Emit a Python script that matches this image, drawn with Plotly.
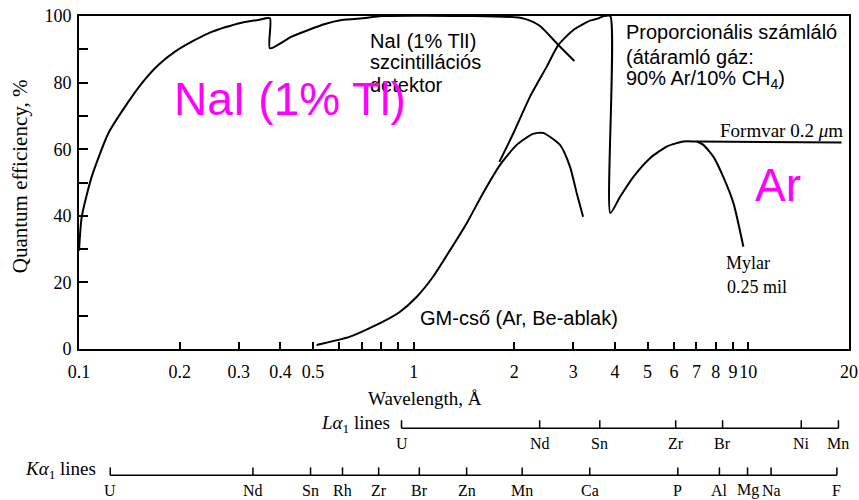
import numpy as np
import plotly.graph_objects as go

# ---- detector efficiency curves (wavelength in Å, quantum efficiency in %) ----
nai_wl = [0.1, 0.1019, 0.1091, 0.1224, 0.1373, 0.154, 0.1726, 0.1936, 0.2172, 0.2434,
          0.2731, 0.3064, 0.3435, 0.372, 0.372, 0.432, 0.5434, 0.61, 0.7175, 0.8,
          1.5, 2.08, 2.228, 2.387, 2.707, 3.022]
nai_eff = [29.5, 39.7, 51.7, 64.8, 72.8, 79.8, 85.3, 89.3, 92.3, 94.8,
           96.6, 98.0, 98.8, 99.3, 90.3, 93.8, 97.6, 98.8, 99.4, 100,
           100, 99.5, 98.6, 97.0, 91.3, 86.5]

prop_wl = [1.804, 1.986, 2.228, 2.499, 2.707, 3.001, 3.367, 3.565, 3.70, 3.87,
           3.87, 4.139, 4.537, 5.087, 5.706, 6.40, 7.02, 19.0]
prop_eff = [56.2, 64.8, 75.8, 84.8, 91.3, 95.8, 98.6, 99.3, 100, 100,
            40.8, 45.7, 51.7, 57.3, 60.8, 62.3, 62.3, 62.0]

mylar_wl = [7.02, 7.34, 7.87, 8.42, 9.03, 9.67]
mylar_eff = [62.3, 61.3, 57.7, 51.7, 43.8, 30.7]

gm_wl = [0.513, 0.6457, 0.810, 0.911, 1.022, 1.143, 1.285, 1.441, 1.612, 1.813,
         2.033, 2.274, 2.436, 2.738, 2.934, 3.072, 3.209]
gm_eff = [1.2, 3.7, 8.2, 11.2, 15.7, 21.7, 29.7, 37.8, 46.8, 55.3,
          61.3, 64.6, 64.9, 61.3, 54.7, 46.8, 39.7]

# ---- axis ticks ----
x_tickvals = [0.1, 0.2, 0.3, 0.4, 0.5, 0.6, 0.7, 0.8, 0.9, 1, 2, 3, 4, 5, 6, 7, 8, 9, 10, 20]
x_ticktext = ["0.1", "0.2", "0.3", "0.4", "0.5", "", "", "", "", "1", "2", "3", "4", "5",
              "6", "7", "8", "9", "10", "20"]
y_tickvals = [0, 10, 20, 30, 40, 50, 60, 70, 80, 90, 100]
y_ticktext = ["0", "", "20", "", "40", "", "60", "", "80", "", "100"]

# ---- characteristic line wavelengths (Å) ----
la_elements = ["U", "Nd", "Sn", "Zr", "Br", "Ni", "Mn"]
la_wl = [0.92, 2.38, 3.60, 6.07, 8.38, 14.4, 18.6]
ka_elements = ["U", "Nd", "Sn", "Rh", "Zr", "Br", "Zn", "Mn", "Ca", "P", "Al", "Mg", "Na", "F"]
ka_wl = [0.124, 0.331, 0.492, 0.613, 0.786, 1.04, 1.44, 2.11, 3.36, 6.16, 8.2, 9.95, 11.7, 18.4]

SERIF = "Liberation Serif"
SANS = "Liberation Sans"
MAGENTA = "#FF00FF"

fig = go.Figure()
line_style = dict(color="black", width=2, shape="spline", smoothing=0.6)
for wl, eff in [(nai_wl, nai_eff), (prop_wl, prop_eff), (mylar_wl, mylar_eff), (gm_wl, gm_eff)]:
    fig.add_trace(go.Scatter(x=wl, y=eff, mode="lines", line=line_style,
                             showlegend=False, hoverinfo="skip"))

fig.update_layout(
    width=859, height=500,
    margin=dict(l=79, r=10, t=16, b=151),
    paper_bgcolor="white", plot_bgcolor="white",
    showlegend=False,
    xaxis=dict(
        type="log", range=[np.log10(0.1), np.log10(20)],
        tickvals=x_tickvals, ticktext=x_ticktext, tickangle=0, automargin=False,
        ticks="inside", ticklen=7, tickwidth=1.5, tickcolor="black",
        ticklabelstandoff=5,
        showline=True, linecolor="black", linewidth=2, mirror=True,
        showgrid=False, zeroline=False,
        tickfont=dict(family=SERIF, size=18, color="black"),
    ),
    yaxis=dict(
        range=[0, 100], automargin=False,
        tickvals=y_tickvals, ticktext=y_ticktext,
        ticks="inside", ticklen=9, tickwidth=1.5, tickcolor="black",
        ticklabelstandoff=2,
        showline=True, linecolor="black", linewidth=2, mirror=True,
        showgrid=False, zeroline=False,
        tickfont=dict(family=SERIF, size=18, color="black"),
    ),
)

annotations = []


def note(text, x, y, xanchor="left", size=20, family=SANS, color="black",
         xref="paper", yref="paper", textangle=0):
    annotations.append(dict(text=text, x=x, y=y, xref=xref, yref=yref,
                            xanchor=xanchor, yanchor="middle", showarrow=False,
                            textangle=textangle,
                            font=dict(family=family, size=size, color=color)))


# axis titles
note("Quantum efficiency, %", -0.077, 0.518, xanchor="center", size=21, family=SERIF,
     textangle=-90)
note("Wavelength, Å", 0.4494, -0.1476, xanchor="center", size=19, family=SERIF)

# curve labels
note("NaI (1% TlI)", 0.3753, 0.9247)
note("szcintillációs", 0.3753, 0.8614)
note("detektor", 0.3753, 0.7922)
note("Proporcionális számláló", 0.7078, 0.9518)
note("(átáramló gáz:", 0.7078, 0.8765)
note("90% Ar/10% CH<sub>4</sub>)", 0.7078, 0.8102)
note("GM-cső (Ar, Be-ablak)", 0.4403, 0.0934)
note("Formvar 0.2 <i>μ</i>m", 0.9948, 0.6566, xanchor="right", size=19, family=SERIF)
note("Mylar", 0.8688, 0.259, xanchor="center", size=18, family=SERIF)
note("0.25 mil", 0.8805, 0.1867, xanchor="center", size=18, family=SERIF)

# characteristic line scales below the wavelength axis
scales = [
    ("<i>Lα</i><sub>1</sub> lines", 0.4065, -0.226, la_elements, la_wl, -0.238, -0.283),
    ("<i>Kα</i><sub>1</sub> lines", 0.0247, -0.3645, ka_elements, ka_wl, -0.3795, -0.4247),
]
shapes = []
for title, tx, ty, names, wls, base, label_y in scales:
    note(title, tx, ty, xanchor="right", size=19, family=SERIF)
    shapes.append(dict(type="line", xref="x", yref="paper", x0=wls[0], x1=wls[-1],
                       y0=base, y1=base, line=dict(color="black", width=1.5)))
    for name, wl in zip(names, wls):
        shapes.append(dict(type="line", xref="x", yref="paper", x0=wl, x1=wl,
                           y0=base, y1=base + 0.024, line=dict(color="black", width=1.5)))
        note(name, float(np.log10(wl)), label_y, xanchor="center", size=16, family=SERIF,
             xref="x")

# large highlight labels
note("NaI (1% Tl)", 0.1208, 0.75, size=46, color=MAGENTA)
note("Ar", 0.8753, 0.491, size=46, color=MAGENTA)

fig.update_layout(annotations=annotations, shapes=shapes)
fig.write_html("out.html")
